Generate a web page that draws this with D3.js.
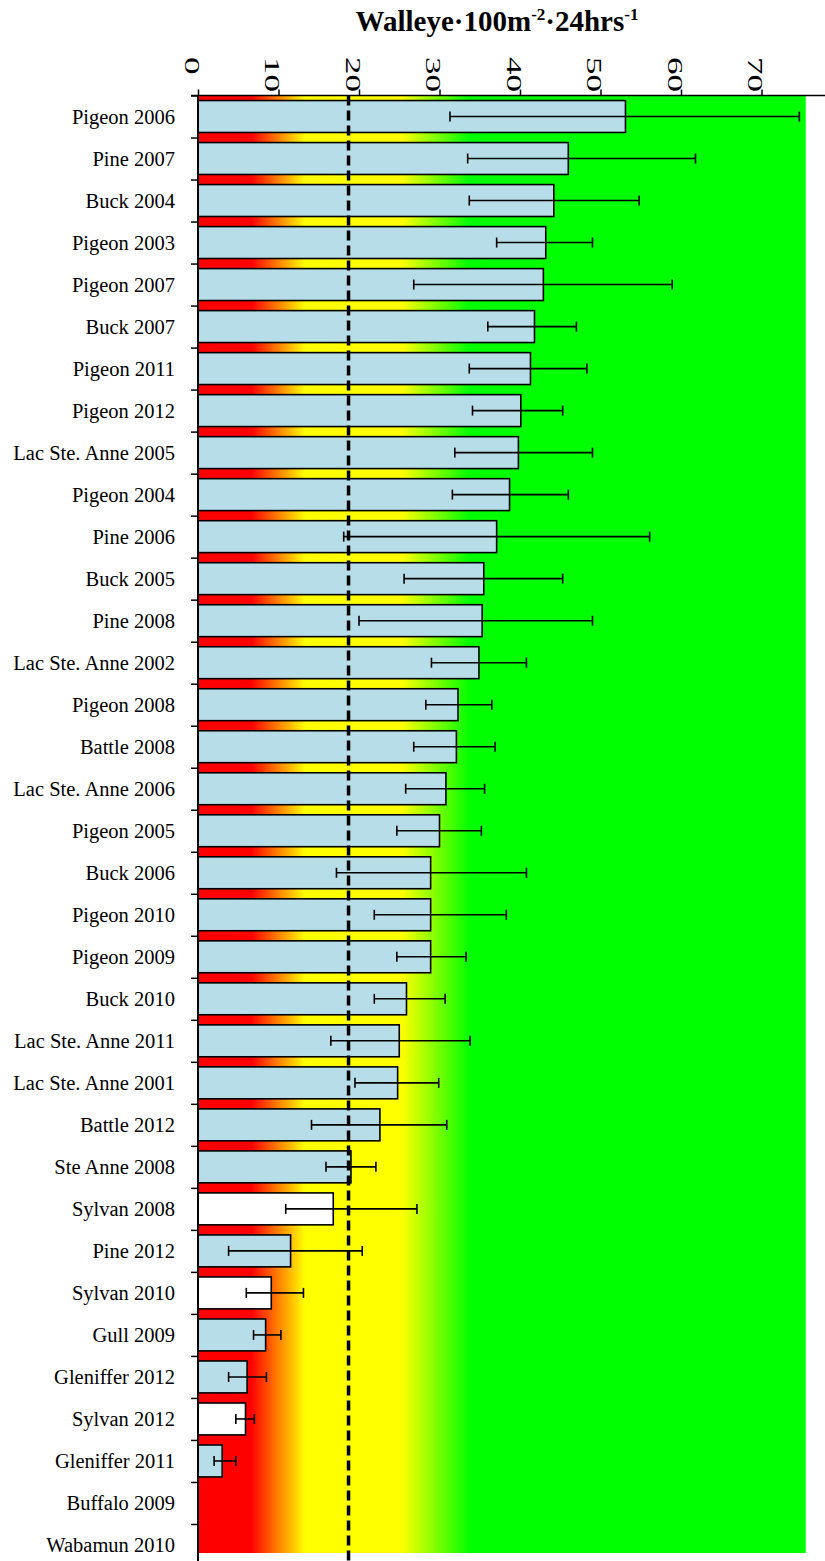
<!DOCTYPE html>
<html>
<head>
<meta charset="utf-8">
<script src="https://cdn.jsdelivr.net/npm/d3@7"></script>
<style>
  html, body { margin: 0; padding: 0; background: #fff; }
  svg { display: block; }
  text { font-family: "Liberation Serif", "Times New Roman", serif; fill: #000; }
</style>
</head>
<body>
<svg id="chart" width="825" height="1561"></svg>
<script>
// Lake-year surveys, sorted by mean catch rate
const categories = [
  "Pigeon 2006", "Pine 2007", "Buck 2004", "Pigeon 2003", "Pigeon 2007",
  "Buck 2007", "Pigeon 2011", "Pigeon 2012", "Lac Ste. Anne 2005", "Pigeon 2004",
  "Pine 2006", "Buck 2005", "Pine 2008", "Lac Ste. Anne 2002", "Pigeon 2008",
  "Battle 2008", "Lac Ste. Anne 2006", "Pigeon 2005", "Buck 2006", "Pigeon 2010",
  "Pigeon 2009", "Buck 2010", "Lac Ste. Anne 2011", "Lac Ste. Anne 2001", "Battle 2012",
  "Ste Anne 2008", "Sylvan 2008", "Pine 2012", "Sylvan 2010", "Gull 2009",
  "Gleniffer 2012", "Sylvan 2012", "Gleniffer 2011", "Buffalo 2009", "Wabamun 2010"
];

// Mean walleye catch (fish per 100 m² of net per 24 h)
const catchRate = [
  53.1, 46.0, 44.2, 43.2, 42.9,
  41.8, 41.3, 40.1, 39.8, 38.7,
  37.1, 35.5, 35.3, 34.9, 32.3,
  32.1, 30.8, 30.0, 28.9, 28.9,
  28.9, 25.9, 25.0, 24.8, 22.6,
  19.0, 16.8, 11.5, 9.1, 8.4,
  6.1, 5.9, 3.0, 0, 0
];

// Lower and upper ends of the error bars
const errLow = [
  31.3, 33.5, 33.7, 37.1, 26.8,
  36.0, 33.7, 34.1, 31.9, 31.6,
  18.1, 25.6, 20.0, 29.0, 28.3,
  26.8, 25.8, 24.7, 17.2, 21.9,
  24.7, 21.9, 16.5, 19.5, 14.1,
  15.9, 10.9, 3.8, 6.0, 6.9,
  3.8, 4.7, 2.0, null, null
];
const errHigh = [
  74.7, 61.8, 54.8, 49.0, 58.9,
  47.0, 48.3, 45.3, 49.0, 46.0,
  56.1, 45.3, 49.0, 40.8, 36.5,
  36.9, 35.6, 35.2, 40.8, 38.3,
  33.3, 30.7, 33.8, 29.9, 30.9,
  22.1, 27.2, 20.4, 13.1, 10.3,
  8.5, 7.0, 4.7, null, null
];

// Surveys drawn as open (white) bars
const openBarSurveys = ["Sylvan 2008", "Sylvan 2010", "Sylvan 2012"];

// Axis ticks and reference threshold
const xTicks = [0, 10, 20, 30, 40, 50, 60, 70];
const thresholdValue = 18.7;

// Extent of the coloured status background (in catch units)
const backgroundMax = 75.5;

const rows = categories.map((c, i) => ({
  name: c, value: catchRate[i], lo: errLow[i], hi: errHigh[i],
  open: openBarSurveys.includes(c)
}));

const svg = d3.select("#chart");
const plotLeft = 198, plotTop = 95.5, plotBottom = 1566;

const x = d3.scaleLinear().domain([0, 80]).range([plotLeft, plotLeft + 644]);
const y = d3.scaleBand().domain(categories).range([plotTop, plotBottom])
  .paddingInner(0.24).paddingOuter(0.12);
const yEdge = d3.scaleLinear().domain([0, categories.length]).range([plotTop, plotBottom]);

// Status background: red (poor) -> yellow -> green (good)
const defs = svg.append("defs");
const grad = defs.append("linearGradient")
  .attr("id", "status").attr("gradientUnits", "userSpaceOnUse")
  .attr("x1", x(0)).attr("x2", x(backgroundMax)).attr("y1", 0).attr("y2", 0);
const stops = [[0, "#ff0000"], [6.6, "#ff0000"], [13.3, "#ffff00"],
               [25.3, "#ffff00"], [33.8, "#00ff00"], [backgroundMax, "#00ff00"]];
stops.forEach(([v, c]) => grad.append("stop")
  .attr("offset", v / backgroundMax).attr("stop-color", c));

svg.append("rect")
  .attr("x", x(0)).attr("y", plotTop)
  .attr("width", x(backgroundMax) - x(0))
  .attr("height", 1553 - plotTop)
  .attr("fill", "url(#status)");

// Bars
svg.append("g").selectAll("rect").data(rows.filter(d => d.value > 0)).join("rect")
  .attr("x", x(0))
  .attr("y", d => y(d.name))
  .attr("width", d => x(d.value) - x(0))
  .attr("height", y.bandwidth())
  .attr("fill", d => d.open ? "#ffffff" : "#b7dde8")
  .attr("stroke", "#000").attr("stroke-width", 1.6);

// Threshold line
svg.append("line")
  .attr("x1", x(thresholdValue)).attr("x2", x(thresholdValue))
  .attr("y1", plotTop).attr("y2", 1561)
  .attr("stroke", "#000").attr("stroke-width", 3.5)
  .attr("stroke-dasharray", "10,5");

// Error bars
const eb = svg.append("g").attr("stroke", "#000").attr("stroke-width", 1.6)
  .selectAll("g").data(rows.filter(d => d.lo != null)).join("g")
  .attr("transform", d => `translate(0,${y(d.name) + y.bandwidth() / 2})`);
eb.append("line").attr("x1", d => x(d.lo)).attr("x2", d => x(d.hi));
eb.append("line").attr("x1", d => x(d.lo)).attr("x2", d => x(d.lo)).attr("y1", -5).attr("y2", 5);
eb.append("line").attr("x1", d => x(d.hi)).attr("x2", d => x(d.hi)).attr("y1", -5).attr("y2", 5);

// Top value axis
const xAxis = svg.append("g").attr("transform", `translate(0,${plotTop})`)
  .call(d3.axisTop(x).tickValues(xTicks).tickSize(6).tickFormat(""));
xAxis.select(".domain").attr("d", `M${plotLeft - 7},0H825`).attr("stroke-width", 1.5);
xAxis.selectAll(".tick line").attr("stroke-width", 1.5);

// Rotated tick labels, reading downward
svg.append("g").selectAll("text").data(xTicks).join("text")
  .attr("transform", d => `translate(${x(d) - 13.5},57) rotate(90) scale(1.75,1)`)
  .attr("font-size", 20)
  .text(d => d);

// Left category axis with ticks between categories
const yAxis = svg.append("g").attr("transform", `translate(${plotLeft},0)`)
  .call(d3.axisLeft(yEdge).tickValues(d3.range(categories.length + 1)).tickSize(7).tickFormat(""));
yAxis.select(".domain").attr("d", `M0,${plotTop}V1561`).attr("stroke-width", 2);
yAxis.selectAll(".tick line").attr("stroke-width", 1.5);

svg.append("g").selectAll("text").data(categories).join("text")
  .attr("x", 175)
  .attr("y", d => y(d) + y.bandwidth() / 2)
  .attr("dy", "0.35em")
  .attr("text-anchor", "end")
  .attr("font-size", 20.5)
  .text(d => d);

// Title
const title = svg.append("text")
  .attr("x", 497).attr("y", 31)
  .attr("text-anchor", "middle")
  .attr("font-size", 29).attr("font-weight", "bold");
title.append("tspan").text("Walleye·100m");
title.append("tspan").attr("dy", -11).attr("font-size", 17).text("-2");
title.append("tspan").attr("dy", 11).text("·24hrs");
title.append("tspan").attr("dy", -11).attr("font-size", 17).text("-1");
</script>
</body>
</html>
